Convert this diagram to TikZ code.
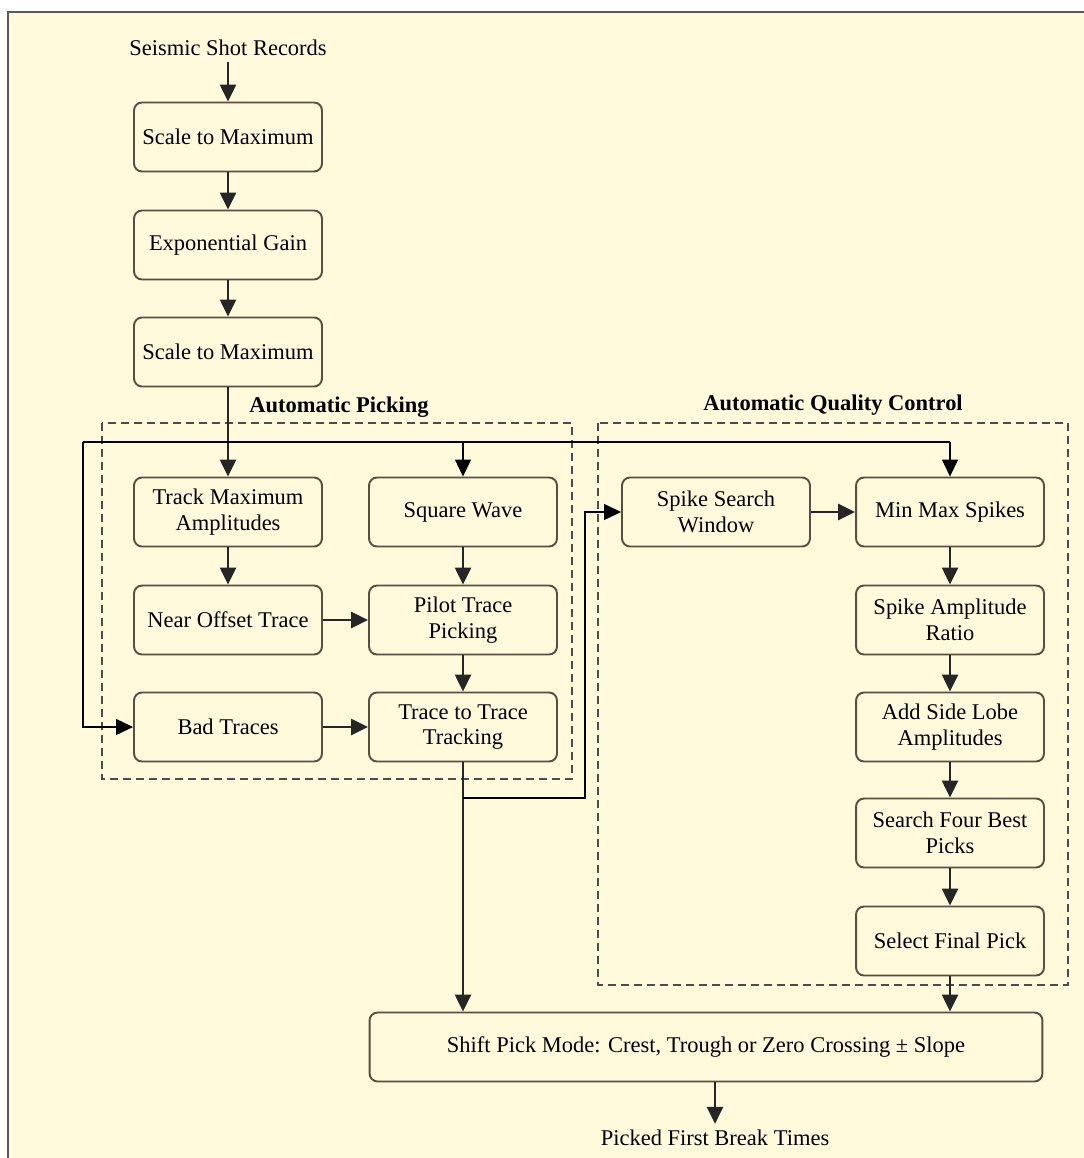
\documentclass[tikz,border=0pt]{standalone}
\usepackage{fontspec}
\setmainfont{Liberation Serif}
\usetikzlibrary{arrows.meta}
\definecolor{paper}{RGB}{255,250,220}
\definecolor{edge}{RGB}{90,78,66}

\tikzset{
	stage/.style={draw=edge, line width=1.1pt, rounded corners=0.16cm, fill=paper,
		minimum width=3.76cm, minimum height=1.38cm, align=center, inner sep=2pt,
		font=\fontsize{12.8}{14.6}\selectfont},
	caption/.style={font=\fontsize{12.8}{14.6}\selectfont},
	heading/.style={font=\fontsize{12.8}{14.6}\selectfont\bfseries},
	flow/.style={line width=1.4pt, draw=black!85, -{Triangle[length=0.34cm,width=0.32cm]}},
	loop/.style={line width=0.7pt, draw=black, -{Triangle[length=0.34cm,width=0.32cm]}},
	wire/.style={line width=0.7pt, draw=black},
	group/.style={draw=black!70, line width=0.8pt, dash pattern=on 0.16cm off 0.1cm}
}

\begin{document}
\begin{tikzpicture}[x=0.02cm, y=-0.02cm]
		%%%%% FRAME %%%%%
		\useasboundingbox (0,0) rectangle (1083,1158);
		\draw[fill=paper, draw=black!65, line width=1.2pt] (8,12) rectangle (1100,1180);
		
		%%%%% GROUPS %%%%%
		\draw[group] (102,423) rectangle (572,779);
		\draw[group] (598,423) rectangle (1068,985);
		\node[heading] (pickTitle) at (339,407) {Automatic Picking};
		\node[heading] (qcTitle) at (833,405) {Automatic Quality Control};
		
		%%%%% PREPROCESSING %%%%%
		\node[caption] (shots) at (228,48) {Seismic Shot Records};
		\node[stage] (scaleA) at (228,137) {Scale to Maximum};
		\node[stage] (gain) at (228,245) {Exponential Gain};
		\node[stage] (scaleB) at (228,352) {Scale to Maximum};
		
		%%%%% PICKING %%%%%
		\node[stage] (track) at (228,512) {Track Maximum\\Amplitudes};
		\node[stage] (square) at (463,512) {Square Wave};
		\node[stage] (near) at (228,620) {Near Offset Trace};
		\node[stage] (pilot) at (463,620) {Pilot Trace\\Picking};
		\node[stage] (bad) at (228,727) {Bad Traces};
		\node[stage] (tracking) at (463,727) {Trace to Trace\\Tracking};
		
		%%%%% QUALITY CONTROL %%%%%
		\node[stage] (window) at (716,512) {Spike Search\\Window};
		\node[stage] (minmax) at (950,512) {Min Max Spikes};
		\node[stage] (ratio) at (950,620) {Spike Amplitude\\Ratio};
		\node[stage] (lobes) at (950,727) {Add Side Lobe\\Amplitudes};
		\node[stage] (four) at (950,833) {Search Four Best\\Picks};
		\node[stage] (final) at (950,941) {Select Final Pick};
		
		%%%%% OUTPUT %%%%%
		\node[stage, minimum width=13.46cm] (shift) at (706,1047) {Shift Pick Mode: Crest, Trough or Zero Crossing ± Slope};
		\node[caption] (times) at (715,1138) {Picked First Break Times};
		
		%%%%% CONNECTORS %%%%%
		\coordinate (busL) at (83,442);
		\coordinate (busR) at (950,442);
		\coordinate (split) at (463,798);
		\coordinate (riser) at (585,798);
		
		\draw[flow] (shots) -- (scaleA);
		\draw[flow] (scaleA) -- (gain);
		\draw[flow] (gain) -- (scaleB);
		\draw[flow] (scaleB) -- (track);
		
		\draw[wire] (busL) -- (busR);
		\draw[loop] (square.north |- busL) -- (square);
		\draw[loop] (busR) -- (minmax);
		\draw[loop] (busL) |- (bad);
		
		\draw[flow] (track) -- (near);
		\draw[flow] (near) -- (pilot);
		\draw[flow] (square) -- (pilot);
		\draw[flow] (pilot) -- (tracking);
		\draw[flow] (bad) -- (tracking);
		\draw[flow] (tracking) -- (tracking.south |- shift.north);
		\draw[loop] (split) -- (riser) |- (window);
		
		\draw[flow] (window) -- (minmax);
		\draw[flow] (minmax) -- (ratio);
		\draw[flow] (ratio) -- (lobes);
		\draw[flow] (lobes) -- (four);
		\draw[flow] (four) -- (final);
		\draw[flow] (final) -- (final.south |- shift.north);
		\draw[flow] (shift.south -| times) -- (times);
\end{tikzpicture}
\end{document}
